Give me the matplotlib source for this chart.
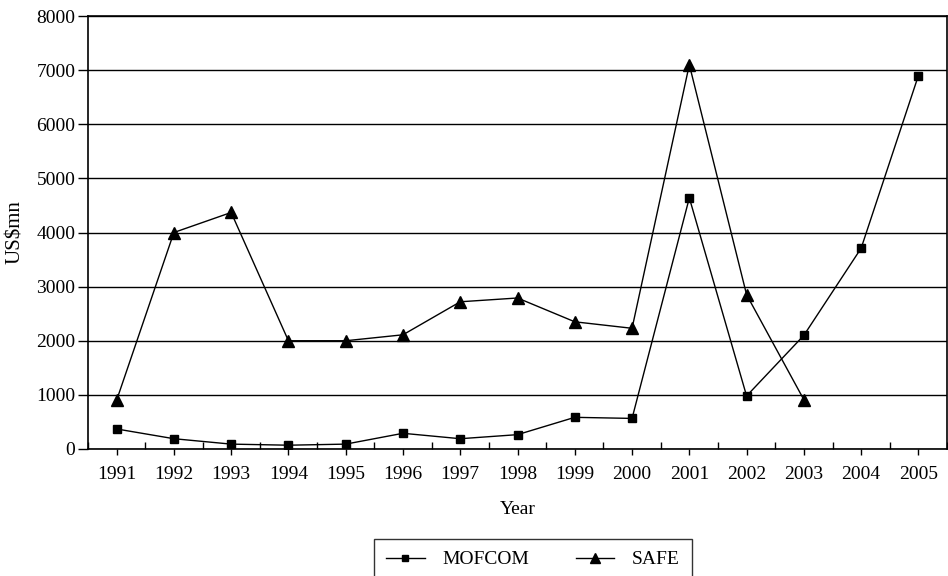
import numpy as np
import matplotlib.pyplot as plt
from matplotlib.ticker import FixedLocator

years = ["1991", "1992", "1993", "1994", "1995", "1996", "1997", "1998",
         "1999", "2000", "2001", "2002", "2003", "2004", "2005"]
mofcom = [370, 190, 90, 70, 90, 290, 190, 265, 585, 565, 4640, 980, 2100, 3710, 6900]
safe = [900, 4000, 4370, 2000, 2000, 2110, 2720, 2790, 2350, 2230, 7100, 2850, 910]

plt.rcParams['font.family'] = ['Liberation Serif', 'DejaVu Serif']

fig = plt.figure(figsize=(9.48, 5.76), dpi=100)
ax = fig.add_axes([0.0928, 0.2205, 0.9062, 0.7517])

x = np.arange(len(years))
ax.plot(x, mofcom, color='black', lw=1, marker='s', ms=5.5, label='MOFCOM')
ax.plot(x[:len(safe)], safe, color='black', lw=1, marker='^', ms=9, label='SAFE')

ax.set_xlim(-0.5, len(years) - 0.5)
ax.set_ylim(0, 8000)
ax.set_yticks(range(0, 8001, 1000))
ax.yaxis.grid(True, color='black', lw=1)
ax.set_axisbelow(True)

# category labels, tick marks between categories point inward
ax.set_xticks(x)
ax.set_xticklabels(years)
ax.xaxis.set_minor_locator(FixedLocator(np.arange(-0.5, len(years), 1.0)))
ax.tick_params(axis='x', which='major', direction='out', length=4, width=1,
               labelsize=14, pad=8)
ax.tick_params(axis='x', which='minor', direction='in', length=5, width=1)
ax.tick_params(axis='y', direction='out', length=7, width=1, labelsize=14, pad=2)

for s in ax.spines.values():
    s.set_linewidth(1.2)

ax.set_xlabel("Year", fontsize=14, labelpad=13)
ax.set_ylabel("US$mn", fontsize=15, labelpad=8)

fig.legend(loc='upper center', bbox_to_anchor=(0.562, 0.081), ncol=2,
           frameon=True, fancybox=False, edgecolor='black', fontsize=14,
           handlelength=2.0, handletextpad=0.9, columnspacing=2.4,
           borderpad=0.6, markerscale=0.85)

fig.savefig("out.png", dpi=100)
